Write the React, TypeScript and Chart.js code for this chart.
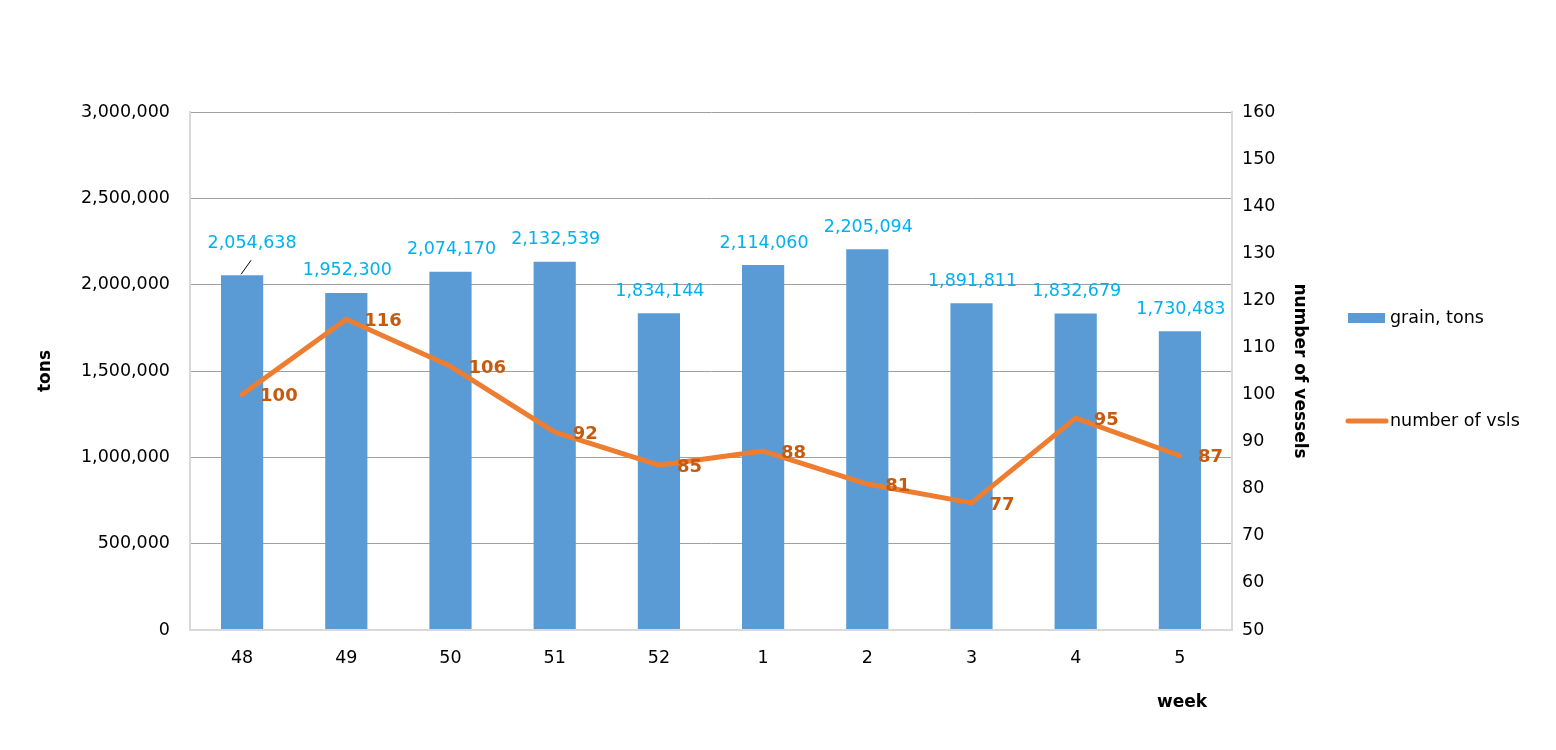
import { useEffect, useRef } from "react";
import { Chart, registerables } from "chart.js";

Chart.register(...registerables);

const weeks = ["48", "49", "50", "51", "52", "1", "2", "3", "4", "5"];
const grainTons = [2054638, 1952300, 2074170, 2132539, 1834144, 2114060, 2205094, 1891811, 1832679, 1730483];
const vesselCount = [100, 116, 106, 92, 85, 88, 81, 77, 95, 87];

const seriesNames = ["grain, tons", "number of vsls"];
const axisTitles = { tons: "tons", vessels: "number of vessels", week: "week" };

const FONT = "'DejaVu Sans', Verdana, sans-serif";
const BAR_COLOR = "#5b9bd5";
const LINE_COLOR = "#ed7d31";
const BAR_LABEL_COLOR = "#00b0f0";
const LINE_LABEL_COLOR = "#c55a11";

// value labels, legend and the "week" title
const overlayPlugin = {
  id: "overlay",
  afterDatasetsDraw(chart: Chart) {
    const { ctx, chartArea } = chart;
    const bars = chart.getDatasetMeta(0).data;
    const points = chart.getDatasetMeta(1).data;

    ctx.save();
    ctx.font = `17.5px ${FONT}`;
    ctx.fillStyle = BAR_LABEL_COLOR;
    ctx.textAlign = "center";
    ctx.textBaseline = "middle";
    bars.forEach((bar: any, i: number) => {
      const first = i === 0;
      ctx.fillText(grainTons[i].toLocaleString("en-US"), bar.x + (first ? 10 : 1), bar.y - (first ? 32 : 22));
      if (first) {
        // leader line for the displaced first label
        ctx.strokeStyle = "#000";
        ctx.lineWidth = 1;
        ctx.beginPath();
        ctx.moveTo(bar.x - 1, bar.y - 1);
        ctx.lineTo(bar.x + 9, bar.y - 15);
        ctx.stroke();
      }
    });

    ctx.font = `bold 18px ${FONT}`;
    ctx.fillStyle = LINE_LABEL_COLOR;
    ctx.textAlign = "left";
    points.forEach((pt: any, i: number) => {
      ctx.fillText(String(vesselCount[i]), pt.x + 18, pt.y + 2);
    });

    // legend
    const lx = chartArea.right + 116;
    const y1 = chartArea.top + 206;
    const y2 = chartArea.top + 309;
    ctx.fillStyle = BAR_COLOR;
    ctx.fillRect(lx, y1 - 5, 37, 10);
    ctx.strokeStyle = LINE_COLOR;
    ctx.lineWidth = 5;
    ctx.lineCap = "round";
    ctx.beginPath();
    ctx.moveTo(lx, y2);
    ctx.lineTo(lx + 38, y2);
    ctx.stroke();
    ctx.font = `17.5px ${FONT}`;
    ctx.fillStyle = "#000";
    ctx.fillText(seriesNames[0], lx + 42, y1);
    ctx.fillText(seriesNames[1], lx + 42, y2);

    ctx.font = `bold 17px ${FONT}`;
    ctx.textAlign = "center";
    ctx.fillText(axisTitles.week, chartArea.right - 50, 703);
    ctx.restore();
  },
};

export default function App() {
  const canvasRef = useRef<HTMLCanvasElement>(null);
  const chartRef = useRef<Chart | null>(null);

  useEffect(() => {
    if (!canvasRef.current) return;
    if (chartRef.current) chartRef.current.destroy();

    Chart.defaults.font.family = FONT;
    Chart.defaults.font.size = 17.5;
    Chart.defaults.color = "#000";

    chartRef.current = new Chart(canvasRef.current, {
      type: "bar",
      data: {
        labels: weeks,
        datasets: [
          {
            type: "bar",
            label: seriesNames[0],
            data: grainTons,
            backgroundColor: BAR_COLOR,
            yAxisID: "y",
            categoryPercentage: 1,
            barPercentage: 0.405,
            order: 2,
          },
          {
            type: "line",
            label: seriesNames[1],
            data: vesselCount,
            borderColor: LINE_COLOR,
            borderWidth: 5,
            borderCapStyle: "round",
            borderJoinStyle: "round",
            pointRadius: 0,
            tension: 0,
            yAxisID: "y1",
            order: 1,
          },
        ],
      },
      options: {
        responsive: true,
        maintainAspectRatio: false,
        animation: false,
        layout: { padding: { top: 112, left: 0, right: 246, bottom: 0 } },
        plugins: {
          legend: { display: false },
          tooltip: { enabled: false },
        },
        scales: {
          x: {
            grid: { display: false, drawTicks: false },
            border: { display: true, color: "#d9d9d9", width: 2 },
            ticks: { padding: 18, autoSkip: false, maxRotation: 0, color: "#000" },
            afterFit(scale: any) {
              scale.height = 120;
            },
          },
          y: {
            position: "left",
            min: 0,
            max: 3000000,
            ticks: {
              stepSize: 500000,
              padding: 20,
              color: "#000",
              callback: (v: any) => Number(v).toLocaleString("en-US"),
            },
            grid: {
              drawTicks: false,
              color: (c: any) => (c.tick && c.tick.value === 0 ? "#d9d9d9" : "#a0a0a0"),
              lineWidth: (c: any) => (c.tick && c.tick.value === 0 ? 2 : 1),
            },
            border: { display: true, color: "#d9d9d9", width: 2 },
            title: {
              display: true,
              text: axisTitles.tons,
              font: { weight: "bold", size: 17 },
              padding: { top: 35, bottom: 0 },
            },
            afterFit(scale: any) {
              scale.width = 190;
            },
          },
          y1: {
            position: "right",
            min: 50,
            max: 160,
            ticks: { stepSize: 10, padding: 10, color: "#000" },
            grid: { display: false, drawTicks: false },
            border: { display: true, color: "#d9d9d9", width: 2 },
            title: {
              display: true,
              text: axisTitles.vessels,
              font: { weight: "bold", size: 17 },
              padding: { top: 0, bottom: 0 },
            },
            afterFit(scale: any) {
              scale.width = 78;
            },
          },
        },
      },
      plugins: [overlayPlugin],
    });

    return () => {
      if (chartRef.current) {
        chartRef.current.destroy();
        chartRef.current = null;
      }
    };
  }, []);

  return (
    <div
      style={{
        position: "fixed",
        left: 0,
        top: 0,
        width: 1556,
        height: 750,
        background: "#fff",
      }}
    >
      <canvas ref={canvasRef} />
    </div>
  );
}
